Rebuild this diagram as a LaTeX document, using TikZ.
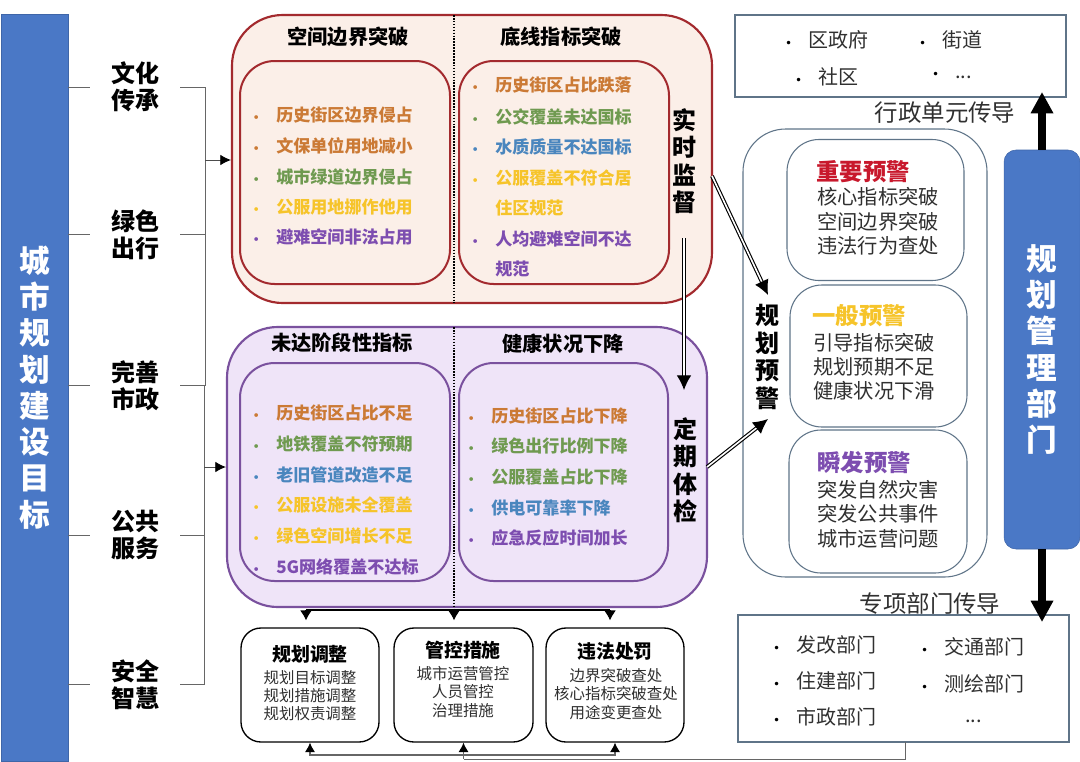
\documentclass[tikz,border=0pt]{standalone}
\usepackage{fontspec}
\setmainfont{Noto Sans CJK SC}
\newfontfamily\dotfont{DejaVu Sans}
\usepackage{xcolor}
\usetikzlibrary{arrows.meta}
\definecolor{barblue}{HTML}{4A78C6}
\definecolor{redline}{HTML}{A32A2E}
\definecolor{redfill}{HTML}{FBEFE8}
\definecolor{purpleline}{HTML}{7A519E}
\definecolor{purplefill}{HTML}{EFE4F8}
\definecolor{slateline}{HTML}{5F7488}
\definecolor{orangetxt}{HTML}{CB7A35}
\definecolor{greentxt}{HTML}{6F9A50}
\definecolor{yellowtxt}{HTML}{F6C42A}
\definecolor{bluetxt}{HTML}{4A86BE}
\definecolor{purpletxt}{HTML}{7D4DB0}
\definecolor{warnred}{HTML}{C8182C}
\definecolor{bodytxt}{HTML}{303030}
\newcommand{\fsz}[2]{\fontsize{#1}{#2}\selectfont}
\newcommand{\itemdot}{\llap{{\dotfont\fsz{8}{8}•}\hspace{12.5pt}}}
\newcommand{\deptdot}{\llap{{\dotfont\fsz{9}{9}\textcolor{black}{•}}\hspace{12pt}}}
\tikzset{
    wh/.style 2 args = {minimum width=#1*0.75pt, minimum height=#2*0.75pt, inner sep=0pt},
    bar/.style = {draw=barblue!85!black, fill=barblue, text=white, font=\fsz{23}{27.2}\bfseries, align=center},
    goal/.style = {font=\fsz{18}{20.6}\bfseries, align=center, text width=36pt, inner xsep=15.8pt, inner ysep=0pt},
    redbig/.style = {draw=redline, fill=redfill, line width=1.6pt, rounded corners=38pt},
    redin/.style = {draw=redline, line width=1.5pt, rounded corners=26pt},
    purplebig/.style = {draw=purpleline, fill=purplefill, line width=1.6pt, rounded corners=38pt},
    purplein/.style = {draw=purpleline, line width=1.5pt, rounded corners=26pt},
    head/.style = {font=\fsz{15.2}{18}\bfseries},
    entry/.style = {font=\fsz{12.8}{15}\bfseries, anchor=west, inner sep=0pt},
    vert/.style = {font=\fsz{18}{20.6}\bfseries, align=center},
    action/.style = {draw=black, fill=white, line width=1pt, rounded corners=15pt},
    actionhead/.style = {font=\fsz{14.2}{17}\bfseries},
    actionbody/.style = {font=\fsz{11.6}{13.6}, text=bodytxt, align=center},
    slate/.style = {draw=slateline, fill=white, line width=0.8pt},
    warnouter/.style = {slate, rounded corners=32pt},
    warninner/.style = {slate, rounded corners=24pt},
    warnhead/.style = {font=\fsz{17.5}{21}\bfseries},
    warnbody/.style = {font=\fsz{15.2}{18.2}, text=bodytxt, align=center},
    dept/.style = {font=\fsz{15}{18}, text=bodytxt, anchor=west, inner sep=0pt},
    caption/.style = {font=\fsz{17.6}{20}, text=bodytxt},
    thin gray/.style = {draw=black!60, line width=0.7pt},
    inarrow/.style = {draw=black!70, line width=0.7pt, -{Latex[length=8pt,width=8pt,black]}},
    downtip/.style = {draw=black, line width=1pt, -{Latex[length=7.5pt,width=9pt]}, shorten >=5.2pt},
    uptip/.style = {draw=black!60, line width=0.8pt, -{Latex[length=7pt,width=7.5pt,black]}},
    dblarrow/.style = {draw=black, double=white, double distance=1.2pt, line width=0.85pt, -{Latex[length=11pt,width=11pt]}},
    fatarrow/.style = {draw=black, line width=5.4pt, -{Triangle[length=16pt,width=16pt]}},
}
\begin{document}
\begin{tikzpicture}[x=0.75pt, y=-0.75pt]
        \useasboundingbox (0, 0) rectangle (1080, 761);

        \node (citybar) [bar, wh={67}{747}] at (34.5, 387.5) {城\\市\\规\\划\\建\\设\\目\\标};

        \node (wenhua) [goal] at (135, 87) {文化\\传承};
        \node (lvse) [goal] at (135, 234.5) {绿色\\出行};
        \node (shizheng) [goal] at (135, 385.5) {完善\\市政};
        \node (gonggong) [goal] at (135, 535) {公共\\服务};
        \node (anquan) [goal] at (135, 684.5) {安全\\智慧};

        \node (bigred) [redbig, wh={480}{288}] at (472, 159) {};
        \node (redleft) [redin, wh={210}{223}] at (345, 172.5) {};
        \node (redright) [redin, wh={210}{223}] at (564, 172.5) {};
        \node (bigpurple) [purplebig, wh={480}{280}] at (467, 467) {};
        \node (purpleleft) [purplein, wh={210}{218}] at (345, 472) {};
        \node (purpleright) [purplein, wh={209}{218}] at (563.5, 472) {};

        \coordinate (joinup) at (205, 160);
        \coordinate (joindown) at (204, 467);

        \draw[thin gray] (citybar.east |- wenhua) -- (wenhua.west);
        \draw[thin gray] (citybar.east |- lvse) -- (lvse.west);
        \draw[thin gray] (citybar.east |- shizheng) -- (shizheng.west);
        \draw[thin gray] (citybar.east |- gonggong) -- (gonggong.west);
        \draw[thin gray] (citybar.east |- anquan) -- (anquan.west);

        \draw[thin gray] (wenhua.east) -| (joinup);
        \draw[thin gray] (lvse.east) -| (joinup);
        \draw[thin gray] (shizheng.east) -| (joinup);
        \draw[thin gray] (shizheng.east) -| (joindown);
        \draw[thin gray] (gonggong.east) -| (joindown);
        \draw[thin gray] (anquan.east) -| (joindown);
        \draw[inarrow] (joinup) -- (bigred.west |- joinup);
        \draw[inarrow] (joindown) -- (bigpurple.west |- joindown);

        \node (headspace) [head] at (348, 37) {空间边界突破};
        \node (headline) [head] at (561, 37) {底线指标突破};
        \node (headstage) [head] at (342, 343) {未达阶段性指标};
        \node (headhealth) [head] at (563, 344) {健康状况下降};

        \foreach \y/\c/\t [count=\n] in {115/orangetxt/历史街区边界侵占, 146/orangetxt/文保单位用地减小, 177/greentxt/城市绿道边界侵占, 207/yellowtxt/公服用地挪作他用, 237/purpletxt/避难空间非法占用}
            \node (ra\n) [entry, text=\c] at (276, \y) {\itemdot\t};

        \foreach \y/\c/\t [count=\n] in {85/orangetxt/历史街区占比跌落, 117/greentxt/公交覆盖未达国标, 147/bluetxt/水质质量不达国标, 178/yellowtxt/公服覆盖不符合居, 239/purpletxt/人均避难空间不达}
            \node (rb\n) [entry, text=\c] at (495, \y) {\itemdot\t};
        \node (rb6) [entry, text=yellowtxt] at (495, 208) {住区规范};
        \node (rb7) [entry, text=purpletxt] at (495, 269) {规范};

        \foreach \y/\c/\t [count=\n] in {413/orangetxt/历史街区占比不足, 444/greentxt/地铁覆盖不符预期, 475/bluetxt/老旧管道改造不足, 505/yellowtxt/公服设施未全覆盖, 536/yellowtxt/绿色空间增长不足, 567/purpletxt/5G网络覆盖不达标}
            \node (pa\n) [entry, text=\c] at (276, \y) {\itemdot\t};

        \foreach \y/\c/\t [count=\n] in {416/orangetxt/历史街区占比下降, 446/greentxt/绿色出行比例下降, 477/greentxt/公服覆盖占比下降, 508/bluetxt/供电可靠率下降, 538/purpletxt/应急反应时间加长}
            \node (pb\n) [entry, text=\c] at (491, \y) {\itemdot\t};

        \node (jiandu) [vert] at (684, 161) {实\\时\\监\\督};
        \node (tijian) [vert] at (685, 470) {定\\期\\体\\检};

        \node (action1) [action, wh={138}{114}] at (310, 685) {};
        \node (action2) [action, wh={139}{114}] at (463.5, 685) {};
        \node (action3) [action, wh={138}{114}] at (615, 685) {};

        \node (ahead1) [actionhead] at (310, 654) {规划调整};
        \node (ahead2) [actionhead] at (463, 650) {管控措施};
        \node (ahead3) [actionhead] at (615, 651) {违法处罚};
        \node (abody1) [actionbody] at (310, 696) {规划目标调整\\规划措施调整\\规划权责调整};
        \node (abody2) [actionbody] at (463, 692) {城市运营管控\\人员管控\\治理措施};
        \node (abody3) [actionbody] at (616, 694) {边界突破查处\\核心指标突破查处\\用途变更查处};

        \coordinate (dotup) at (454, 15);
        \coordinate (dotmid) at (454, 303);
        \coordinate (dotlow) at (454, 327);
        \coordinate (rowleft) at (306, 610);
        \coordinate (rowright) at (610, 610);

        \draw[densely dotted, line width=1.2pt] (dotup) -- (dotmid);
        \draw[densely dotted, line width=1.2pt] (dotlow) -- (dotlow |- rowleft);
        \draw[line width=1pt] (rowleft) -- (rowright);
        \draw[downtip] (rowleft) -- (rowleft |- action1.north);
        \draw[downtip] (dotlow |- rowleft) -- (dotlow |- action2.north);
        \draw[downtip] (rowright) -- (rowright |- action3.north);

        \node (warnbig) [warnouter, wh={244}{448}] at (865, 353) {};
        \node (warn1) [warninner, wh={177}{141}] at (875.5, 210) {};
        \node (warn2) [warninner, wh={177}{142}] at (878.5, 356) {};
        \node (warn3) [warninner, wh={178}{143}] at (878, 501.5) {};

        \node (yujing) [vert] at (767, 357) {规\\划\\预\\警};

        \node (whead1) [warnhead, text=warnred] at (863, 172) {重要预警};
        \node (whead2) [warnhead, text=yellowtxt] at (859, 316) {一般预警};
        \node (whead3) [warnhead, text=purpletxt] at (864, 463) {瞬发预警};
        \node (wbody1) [warnbody] at (878, 221.5) {核心指标突破\\空间边界突破\\违法行为查处};
        \node (wbody2) [warnbody] at (874, 366.5) {引导指标突破\\规划预期不足\\健康状况下滑};
        \node (wbody3) [warnbody] at (878, 514) {突发自然灾害\\突发公共事件\\城市运营问题};

        \coordinate (jdright) at (712, 176);
        \coordinate (yjtop) at (768, 295);
        \coordinate (jdbelow) at (684, 238);
        \coordinate (tjabove) at (684, 390);
        \coordinate (tjright) at (707, 467);
        \coordinate (yjlow) at (768, 419);

        \draw[dblarrow] (jdright) -- (yjtop);
        \draw[dblarrow] (jdbelow) -- (tjabove);
        \draw[dblarrow] (tjright) -- (yjlow);

        \node (adminbox) [slate, wh={331}{82}] at (900.5, 56) {};
        \node (deptbox) [slate, wh={331}{127}] at (903.5, 678.5) {};
        \node (adminlabel) [caption] at (945, 113) {行政单元传导};
        \node (deptlabel) [caption] at (930, 604) {专项部门传导};

        \node (ad1) [dept] at (808, 40) {\deptdot 区政府};
        \node (ad2) [dept] at (942, 40) {\deptdot 街道};
        \node (ad3) [dept] at (818, 77) {\deptdot 社区};
        \node (ad4) [dept] at (955, 76) {\deptdot ...};

        \node (de1) [dept] at (796, 645) {\deptdot 发改部门};
        \node (de2) [dept] at (796, 681) {\deptdot 住建部门};
        \node (de3) [dept] at (796, 717) {\deptdot 市政部门};
        \node (de4) [dept] at (944, 647) {\deptdot 交通部门};
        \node (de5) [dept] at (944, 684) {\deptdot 测绘部门};
        \node (de6) [dept] at (965, 721) {...};

        \node (planbar) [bar, rounded corners=9pt, wh={76}{399}] at (1042, 349.5) {规\\划\\管\\理\\部\\门};

        \coordinate (fatup) at (1042, 92);
        \coordinate (fatdown) at (1042, 622);

        \draw[fatarrow] (planbar.north) -- (fatup);
        \draw[fatarrow] (planbar.south) -- (fatdown);

        \coordinate (backout) at (905, 742);
        \coordinate (backmid) at (463.5, 759);
        \coordinate (backleft) at (463.5, 755);

        \draw[thin gray] (backout) |- (backmid);
        \draw[uptip] (backmid) -- (action2.south);
        \draw[uptip] (backleft) -| (action1.south);
        \draw[uptip] (backleft) -| (action3.south);
    \end{tikzpicture}
\end{document}
